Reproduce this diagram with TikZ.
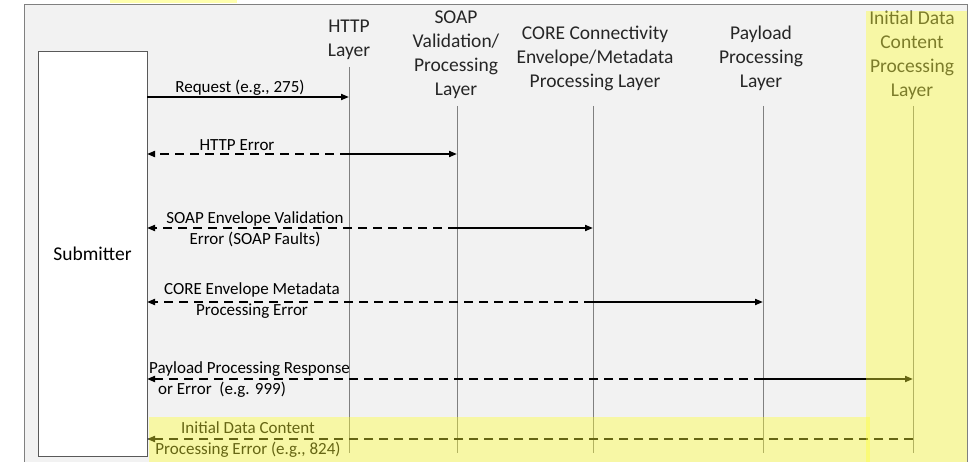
\documentclass[tikz,border=0pt]{standalone}
\usepackage{fontspec}
\setmainfont{Carlito}
\usetikzlibrary{arrows.meta,positioning}
\definecolor{panelgray}{RGB}{242,242,242}
\definecolor{markyellow}{RGB}{255,255,50}

\begin{document}
\begin{tikzpicture}[
    x=1pt, y=-1pt,
    layer/.style={align=center, font=\fontsize{19.5}{24}\selectfont, text=black!85},
    msglabel/.style={align=center, inner sep=0pt, font=\fontsize{17}{21}\selectfont},
    lifeline/.style={draw=gray, line width=0.8pt},
    request/.style={-{Triangle[length=8pt,width=6pt]}, line width=1.8pt},
    reply/.style={request, dash pattern=on 9pt off 6pt},
    marker/.style={fill=markyellow, fill opacity=0.4, draw=none}
]

\clip (0,0) rectangle (971,462);
\fill[white] (0,0) rectangle (971,462);
\draw[draw=gray, line width=1pt, fill=panelgray] (24,5) rectangle (967,480);

% layer headings and lifelines
\node[layer] (http) at (349,40) {HTTP\\Layer};
\node[layer] (soap) at (456,54.5) {SOAP\\Validation/\\Processing\\Layer};
\node[layer] (core) at (595,58) {CORE Connectivity\\Envelope/Metadata\\Processing Layer};
\node[layer] (pay) at (761,58) {Payload\\Processing\\Layer};
\node[layer] (init) at (912,55.5) {Initial Data\\Content\\Processing\\Layer};

\foreach \name/\x/\top in {http/349/67, soap/457/106, core/593/106, pay/763/106, init/913/106}
    \draw[lifeline] (\x,\top) -- (\x,453);

\node[draw=black!65, line width=1pt, fill=white, minimum width=109pt, minimum height=404pt,
      font=\fontsize{19.5}{24}\selectfont] (sub) at (92.5,254) {Submitter};

% message rows
\foreach \name/\x in {sub/147, http/349, soap/457, core/593, pay/763, init/913}
    \foreach \row/\y in {1/97, 2/154, 3/228, 4/302, 5/379, 6/439}
        \coordinate (\name-\row) at (\x,\y);

\draw[request] (sub-1) -- (http-1);
\draw[reply] (http-2) -- (sub-2);
\draw[request] (http-2) -- (soap-2);
\draw[reply] (soap-3) -- (sub-3);
\draw[request] (soap-3) -- (core-3);
\draw[reply] (core-4) -- (sub-4);
\draw[request] (core-4) -- (pay-4);
\draw[reply] (pay-5) -- (sub-5);
\draw[request] (pay-5) -- (init-5);
\draw[reply] (init-6) -- (sub-6);

\node[msglabel] (req) at (240,88) {Request (e.g., 275)};
\node[msglabel] (httperr) at (237,145) {HTTP Error};
\node[msglabel] (soaperr) at (255,229.5) {SOAP Envelope Validation\\Error (SOAP Faults)};
\node[msglabel] (coreerr) at (252,301) {CORE Envelope Metadata\\Processing Error};
\node[msglabel, align=left, anchor=west] (payresp) at (149,379.5)
    {Payload Processing Response\\\hspace*{9pt}or Error\ \ (e.g. 999)};
\node[msglabel] (initerr) at (248,439.5) {Initial Data Content\\Processing Error (e.g., 824)};

% highlighted areas
\fill[marker] (110,0) rectangle (237,3);
\fill[marker] (866,11) rectangle (967,470);
\fill[marker] (149,417) rectangle (870,470);

\end{tikzpicture}
\end{document}
